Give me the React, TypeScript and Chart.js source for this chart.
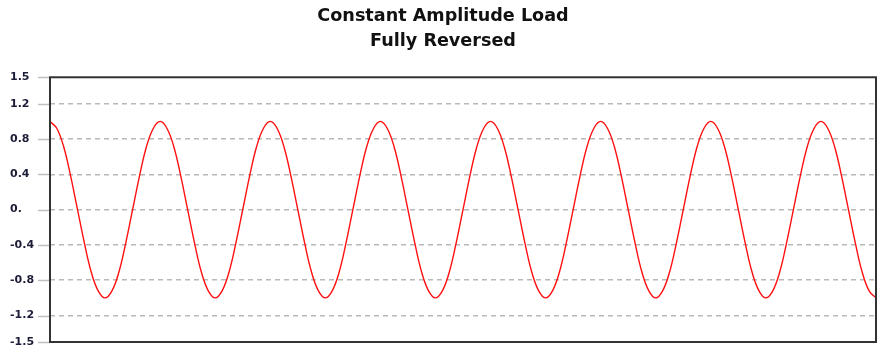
import React, { useEffect, useRef } from "react";
import { Chart, registerables } from "chart.js";

Chart.register(...registerables);

const titleLines = ["Constant Amplitude Load", "Fully Reversed"];
const yTickValues = [-1.5, -1.2, -0.8, -0.4, 0, 0.4, 0.8, 1.2, 1.5];
const yTickLabels = ["-1.5", "-1.2", "-0.8", "-0.4", "0.", "0.4", "0.8", "1.2", "1.5"];

// Load values (16 samples per cycle, 7.5 cycles)
const loadValues = [
  1, 0.92, 0.71, 0.38, 0, -0.38, -0.71, -0.92, -1, -0.92, -0.71, -0.38, 0, 0.38, 0.71, 0.92,
  1, 0.92, 0.71, 0.38, 0, -0.38, -0.71, -0.92, -1, -0.92, -0.71, -0.38, 0, 0.38, 0.71, 0.92,
  1, 0.92, 0.71, 0.38, 0, -0.38, -0.71, -0.92, -1, -0.92, -0.71, -0.38, 0, 0.38, 0.71, 0.92,
  1, 0.92, 0.71, 0.38, 0, -0.38, -0.71, -0.92, -1, -0.92, -0.71, -0.38, 0, 0.38, 0.71, 0.92,
  1, 0.92, 0.71, 0.38, 0, -0.38, -0.71, -0.92, -1, -0.92, -0.71, -0.38, 0, 0.38, 0.71, 0.92,
  1, 0.92, 0.71, 0.38, 0, -0.38, -0.71, -0.92, -1, -0.92, -0.71, -0.38, 0, 0.38, 0.71, 0.92,
  1, 0.92, 0.71, 0.38, 0, -0.38, -0.71, -0.92, -1, -0.92, -0.71, -0.38, 0, 0.38, 0.71, 0.92,
  1, 0.92, 0.71, 0.38, 0, -0.38, -0.71, -0.92, -1,
];
const sampleLabels = loadValues.map((_, i) => String(i));

const borderPlugin = {
  id: "plotBorder",
  afterDatasetsDraw(chart: any) {
    const { ctx, chartArea, scales } = chart;
    ctx.save();
    // short solid tick marks left of the plot
    ctx.strokeStyle = "#c0c0c0";
    ctx.lineWidth = 1.5;
    for (const v of yTickValues) {
      const y = Math.round(scales.y.getPixelForValue(v)) + 0.5;
      ctx.beginPath();
      ctx.moveTo(chartArea.left - 12, y);
      ctx.lineTo(chartArea.left, y);
      ctx.stroke();
    }
    ctx.strokeStyle = "#333333";
    ctx.lineWidth = 2;
    ctx.strokeRect(chartArea.left, chartArea.top, chartArea.right - chartArea.left, chartArea.bottom - chartArea.top);
    ctx.restore();
  },
};

export default function App() {
  const canvasRef = useRef<HTMLCanvasElement | null>(null);

  useEffect(() => {
    if (!canvasRef.current) return;
    const chart = new Chart(canvasRef.current, {
      type: "line",
      data: {
        labels: sampleLabels,
        datasets: [
          {
            data: loadValues,
            borderColor: "#ff1010",
            borderWidth: 1.4,
            pointRadius: 0,
            tension: 0.4,
            fill: false,
          },
        ],
      },
      options: {
        animation: false,
        responsive: true,
        maintainAspectRatio: false,
        layout: { padding: { top: 4, left: 10, right: 17, bottom: 21 } },
        plugins: {
          legend: { display: false },
          tooltip: { enabled: false },
          title: {
            display: true,
            text: titleLines,
            color: "#111111",
            font: { family: "'DejaVu Sans', sans-serif", size: 17.6, weight: "bold", lineHeight: 1.4 },
            padding: { top: 0, bottom: 24 },
          },
        },
        scales: {
          x: {
            display: false,
            offset: false,
          },
          y: {
            min: -1.5,
            max: 1.5,
            afterBuildTicks: (scale: any) => {
              scale.ticks = yTickValues.map((v) => ({ value: v }));
            },
            afterFit: (scale: any) => {
              scale.width = 40;
            },
            border: { display: false, dash: [5, 4] },
            grid: {
              color: (ctx: any) => {
                const v = ctx.tick ? ctx.tick.value : 0;
                return v === 1.5 || v === -1.5 ? "rgba(0,0,0,0)" : "#b8b8b8";
              },
              lineWidth: 1.5,
              drawTicks: false,
            },
            ticks: {
              crossAlign: "far",
              padding: 14,
              color: "#1c1c38",
              font: { family: "'DejaVu Sans', sans-serif", size: 11, weight: "bold" },
              callback: (value: any) => {
                const idx = yTickValues.indexOf(Number(value));
                return idx >= 0 ? yTickLabels[idx] : "";
              },
            },
          },
        },
      },
      plugins: [borderPlugin],
    } as any);
    return () => chart.destroy();
  }, []);

  return (
    <div style={{ position: "fixed", left: 0, top: 0, width: 893, height: 363, background: "#ffffff" }}>
      <canvas ref={canvasRef} />
    </div>
  );
}
